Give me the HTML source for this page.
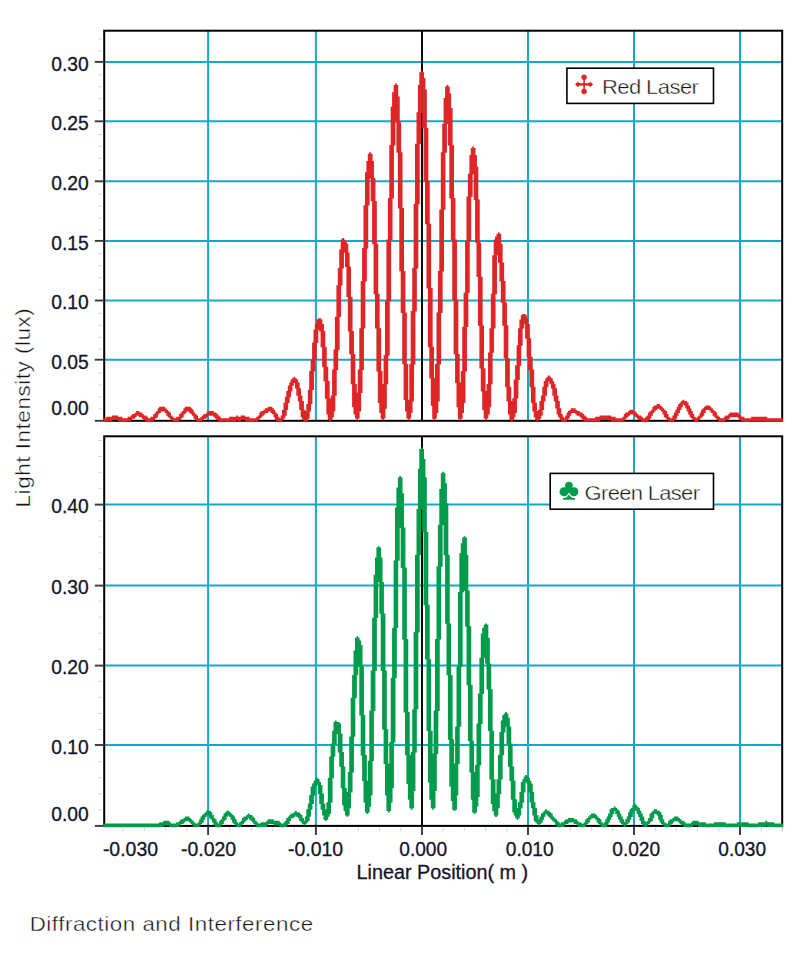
<!DOCTYPE html><html><head><meta charset="utf-8"><title>Diffraction and Interference</title>
<style>html,body{margin:0;padding:0;background:#fff;}body{width:800px;height:953px;overflow:hidden;font-family:"Liberation Sans",sans-serif;}svg{display:block}.t{font-family:"Liberation Sans",sans-serif;font-size:19.6px;fill:#15152a;stroke:#15152a;stroke-width:0.3px}.l{font-family:"Liberation Sans",sans-serif;fill:#141414;stroke:#fff;stroke-width:0.38px;paint-order:fill stroke}</style></head><body>
<svg width="800" height="953" viewBox="0 0 800 953">
<defs><filter id="bl" x="-2%" y="-2%" width="104%" height="104%"><feGaussianBlur stdDeviation="0.55"/></filter></defs>
<rect width="800" height="953" fill="#fff"/>
<line x1="104.2" y1="61.9" x2="782.2" y2="61.9" stroke="#17a8c4" stroke-width="2.0"/>
<line x1="104.2" y1="121.3" x2="782.2" y2="121.3" stroke="#17a8c4" stroke-width="2.0"/>
<line x1="104.2" y1="181.3" x2="782.2" y2="181.3" stroke="#17a8c4" stroke-width="2.0"/>
<line x1="104.2" y1="240.9" x2="782.2" y2="240.9" stroke="#17a8c4" stroke-width="2.0"/>
<line x1="104.2" y1="300.5" x2="782.2" y2="300.5" stroke="#17a8c4" stroke-width="2.0"/>
<line x1="104.2" y1="359.7" x2="782.2" y2="359.7" stroke="#17a8c4" stroke-width="2.0"/>
<line x1="208.1" y1="30.7" x2="208.1" y2="420.8" stroke="#17a8c4" stroke-width="2.0"/>
<line x1="315.9" y1="30.7" x2="315.9" y2="420.8" stroke="#17a8c4" stroke-width="2.0"/>
<line x1="528.0" y1="30.7" x2="528.0" y2="420.8" stroke="#17a8c4" stroke-width="2.0"/>
<line x1="634.0" y1="30.7" x2="634.0" y2="420.8" stroke="#17a8c4" stroke-width="2.0"/>
<line x1="740.0" y1="30.7" x2="740.0" y2="420.8" stroke="#17a8c4" stroke-width="2.0"/>
<line x1="422.0" y1="30.7" x2="422.0" y2="420.8" stroke="#0c0c0c" stroke-width="2.0"/>
<rect x="104.2" y="30.7" width="678.0" height="390.1" fill="none" stroke="#000" stroke-width="2"/>
<line x1="94.8" y1="61.9" x2="104.2" y2="61.9" stroke="#3a3a3a" stroke-width="1.9"/>
<line x1="94.8" y1="121.3" x2="104.2" y2="121.3" stroke="#3a3a3a" stroke-width="1.9"/>
<line x1="94.8" y1="181.3" x2="104.2" y2="181.3" stroke="#3a3a3a" stroke-width="1.9"/>
<line x1="94.8" y1="240.9" x2="104.2" y2="240.9" stroke="#3a3a3a" stroke-width="1.9"/>
<line x1="94.8" y1="300.5" x2="104.2" y2="300.5" stroke="#3a3a3a" stroke-width="1.9"/>
<line x1="94.8" y1="359.7" x2="104.2" y2="359.7" stroke="#3a3a3a" stroke-width="1.9"/>
<line x1="94.8" y1="420.8" x2="104.2" y2="420.8" stroke="#3a3a3a" stroke-width="1.9"/>
<line x1="98.4" y1="408.9" x2="101.8" y2="408.9" stroke="#cfcfcf" stroke-width="0.9"/>
<line x1="98.4" y1="396.9" x2="101.8" y2="396.9" stroke="#cfcfcf" stroke-width="0.9"/>
<line x1="98.4" y1="385.0" x2="101.8" y2="385.0" stroke="#cfcfcf" stroke-width="0.9"/>
<line x1="98.4" y1="373.1" x2="101.8" y2="373.1" stroke="#cfcfcf" stroke-width="0.9"/>
<line x1="98.4" y1="349.2" x2="101.8" y2="349.2" stroke="#cfcfcf" stroke-width="0.9"/>
<line x1="98.4" y1="337.3" x2="101.8" y2="337.3" stroke="#cfcfcf" stroke-width="0.9"/>
<line x1="98.4" y1="325.4" x2="101.8" y2="325.4" stroke="#cfcfcf" stroke-width="0.9"/>
<line x1="98.4" y1="313.4" x2="101.8" y2="313.4" stroke="#cfcfcf" stroke-width="0.9"/>
<line x1="98.4" y1="289.6" x2="101.8" y2="289.6" stroke="#cfcfcf" stroke-width="0.9"/>
<line x1="98.4" y1="277.6" x2="101.8" y2="277.6" stroke="#cfcfcf" stroke-width="0.9"/>
<line x1="98.4" y1="265.7" x2="101.8" y2="265.7" stroke="#cfcfcf" stroke-width="0.9"/>
<line x1="98.4" y1="253.8" x2="101.8" y2="253.8" stroke="#cfcfcf" stroke-width="0.9"/>
<line x1="98.4" y1="229.9" x2="101.8" y2="229.9" stroke="#cfcfcf" stroke-width="0.9"/>
<line x1="98.4" y1="218.0" x2="101.8" y2="218.0" stroke="#cfcfcf" stroke-width="0.9"/>
<line x1="98.4" y1="206.1" x2="101.8" y2="206.1" stroke="#cfcfcf" stroke-width="0.9"/>
<line x1="98.4" y1="194.1" x2="101.8" y2="194.1" stroke="#cfcfcf" stroke-width="0.9"/>
<line x1="98.4" y1="170.3" x2="101.8" y2="170.3" stroke="#cfcfcf" stroke-width="0.9"/>
<line x1="98.4" y1="158.3" x2="101.8" y2="158.3" stroke="#cfcfcf" stroke-width="0.9"/>
<line x1="98.4" y1="146.4" x2="101.8" y2="146.4" stroke="#cfcfcf" stroke-width="0.9"/>
<line x1="98.4" y1="134.5" x2="101.8" y2="134.5" stroke="#cfcfcf" stroke-width="0.9"/>
<line x1="98.4" y1="110.6" x2="101.8" y2="110.6" stroke="#cfcfcf" stroke-width="0.9"/>
<line x1="98.4" y1="98.7" x2="101.8" y2="98.7" stroke="#cfcfcf" stroke-width="0.9"/>
<line x1="98.4" y1="86.8" x2="101.8" y2="86.8" stroke="#cfcfcf" stroke-width="0.9"/>
<line x1="98.4" y1="74.8" x2="101.8" y2="74.8" stroke="#cfcfcf" stroke-width="0.9"/>
<line x1="98.4" y1="51.0" x2="101.8" y2="51.0" stroke="#cfcfcf" stroke-width="0.9"/>
<line x1="98.4" y1="39.0" x2="101.8" y2="39.0" stroke="#cfcfcf" stroke-width="0.9"/>
<text class="t" x="88.8" y="70.7" text-anchor="end" textLength="37.5" lengthAdjust="spacingAndGlyphs">0.30</text>
<text class="t" x="88.8" y="130.1" text-anchor="end" textLength="37.5" lengthAdjust="spacingAndGlyphs">0.25</text>
<text class="t" x="88.8" y="190.1" text-anchor="end" textLength="37.5" lengthAdjust="spacingAndGlyphs">0.20</text>
<text class="t" x="88.8" y="249.7" text-anchor="end" textLength="37.5" lengthAdjust="spacingAndGlyphs">0.15</text>
<text class="t" x="88.8" y="309.3" text-anchor="end" textLength="37.5" lengthAdjust="spacingAndGlyphs">0.10</text>
<text class="t" x="88.8" y="368.5" text-anchor="end" textLength="37.5" lengthAdjust="spacingAndGlyphs">0.05</text>
<text class="t" x="88.8" y="415.0" text-anchor="end" textLength="37.5" lengthAdjust="spacingAndGlyphs">0.00</text>
<path d="M103.3 418.3h1.83v3.4h-1.83zM104.7 418.3h1.83v3.4h-1.83zM106.1 416.8h1.83v4.7h-1.83zM107.6 416.8h1.83v4.7h-1.83zM109.0 416.8h1.83v4.7h-1.83zM110.4 416.8h1.83v4.7h-1.83zM111.9 415.4h1.83v4.7h-1.83zM113.3 415.4h1.83v4.7h-1.83zM114.7 415.4h1.83v4.7h-1.83zM116.2 415.4h1.83v4.7h-1.83zM117.6 416.8h1.83v4.7h-1.83zM119.0 416.8h1.83v4.7h-1.83zM120.4 416.8h1.83v4.7h-1.83zM121.9 418.3h1.83v3.4h-1.83zM123.3 418.3h1.83v3.4h-1.83zM124.7 418.3h1.83v3.4h-1.83zM126.2 418.3h1.83v3.4h-1.83zM127.6 416.8h1.83v4.7h-1.83zM129.0 416.8h1.83v4.7h-1.83zM130.5 415.4h1.83v4.7h-1.83zM131.9 414.0h1.83v4.7h-1.83zM133.3 414.0h1.83v4.7h-1.83zM134.7 412.5h1.83v4.7h-1.83zM136.2 411.1h1.83v4.7h-1.83zM137.6 411.1h1.83v4.7h-1.83zM139.0 412.5h1.83v4.7h-1.83zM140.5 412.5h1.83v4.7h-1.83zM141.9 414.0h1.83v4.7h-1.83zM143.3 415.4h1.83v4.7h-1.83zM144.8 415.4h1.83v6.1h-1.83zM146.2 416.8h1.83v4.8h-1.83zM147.6 418.3h1.83v3.4h-1.83zM149.0 418.3h1.83v3.4h-1.83zM150.5 416.8h1.83v4.7h-1.83zM151.9 416.8h1.83v4.7h-1.83zM153.3 414.0h1.83v6.1h-1.83zM154.8 412.5h1.83v6.1h-1.83zM156.2 411.1h1.83v6.1h-1.83zM157.6 408.2h1.83v6.1h-1.83zM159.1 406.8h1.83v6.1h-1.83zM160.5 406.8h1.83v4.7h-1.83zM161.9 406.8h1.83v4.7h-1.83zM163.3 406.8h1.83v4.7h-1.83zM164.8 408.2h1.83v4.7h-1.83zM166.2 409.7h1.83v6.1h-1.83zM167.6 411.1h1.83v6.1h-1.83zM169.1 412.5h1.83v6.1h-1.83zM170.5 415.4h1.83v4.7h-1.83zM171.9 416.8h1.83v4.7h-1.83zM173.4 418.3h1.83v3.4h-1.83zM174.8 418.3h1.83v3.4h-1.83zM176.2 416.8h1.83v4.7h-1.83zM177.6 416.8h1.83v4.7h-1.83zM179.1 414.0h1.83v6.1h-1.83zM180.5 412.5h1.83v6.1h-1.83zM181.9 411.1h1.83v6.1h-1.83zM183.4 408.2h1.83v6.1h-1.83zM184.8 406.8h1.83v6.1h-1.83zM186.2 406.8h1.83v4.7h-1.83zM187.7 406.8h1.83v4.7h-1.83zM189.1 406.8h1.83v6.1h-1.83zM190.5 408.2h1.83v6.1h-1.83zM191.9 409.7h1.83v6.1h-1.83zM193.4 412.5h1.83v6.1h-1.83zM194.8 414.0h1.83v6.1h-1.83zM196.2 415.4h1.83v6.1h-1.83zM197.7 418.3h1.83v3.4h-1.83zM199.1 418.3h1.83v3.4h-1.83zM200.5 416.8h1.83v4.7h-1.83zM202.0 415.4h1.83v4.7h-1.83zM203.4 414.0h1.83v4.7h-1.83zM204.8 414.0h1.83v4.7h-1.83zM206.2 412.5h1.83v4.7h-1.83zM207.7 411.1h1.83v4.7h-1.83zM209.1 411.1h1.83v4.7h-1.83zM210.5 411.1h1.83v4.7h-1.83zM212.0 411.1h1.83v4.7h-1.83zM213.4 412.5h1.83v4.7h-1.83zM214.8 412.5h1.83v6.1h-1.83zM216.3 414.0h1.83v6.1h-1.83zM217.7 415.4h1.83v6.1h-1.83zM219.1 416.8h1.83v4.7h-1.83zM220.5 418.3h1.83v3.4h-1.83zM222.0 418.3h1.83v3.4h-1.83zM223.4 418.3h1.83v3.4h-1.83zM224.8 418.3h1.83v3.4h-1.83zM226.3 418.3h1.83v3.4h-1.83zM227.7 418.3h1.83v3.4h-1.83zM229.1 416.8h1.83v4.7h-1.83zM230.6 416.8h1.83v4.7h-1.83zM232.0 416.8h1.83v4.7h-1.83zM233.4 416.8h1.83v4.7h-1.83zM234.8 416.8h1.83v4.7h-1.83zM236.3 415.4h1.83v4.7h-1.83zM237.7 416.8h1.83v4.7h-1.83zM239.1 416.8h1.83v4.7h-1.83zM240.6 415.4h1.83v4.7h-1.83zM242.0 415.4h1.83v4.7h-1.83zM243.4 415.4h1.83v4.7h-1.83zM244.9 416.8h1.83v4.7h-1.83zM246.3 416.8h1.83v4.7h-1.83zM247.7 416.8h1.83v4.7h-1.83zM249.1 418.3h1.83v3.4h-1.83zM250.6 418.3h1.83v3.4h-1.83zM252.0 418.3h1.83v3.4h-1.83zM253.4 418.3h1.83v3.4h-1.83zM254.9 418.3h1.83v3.4h-1.83zM256.3 416.8h1.83v4.7h-1.83zM257.7 415.4h1.83v4.7h-1.83zM259.2 412.5h1.83v6.1h-1.83zM260.6 411.1h1.83v6.1h-1.83zM262.0 411.1h1.83v4.7h-1.83zM263.4 409.7h1.83v4.7h-1.83zM264.9 408.2h1.83v4.7h-1.83zM266.3 408.2h1.83v4.7h-1.83zM267.7 406.8h1.83v4.7h-1.83zM269.2 406.8h1.83v4.7h-1.83zM270.6 406.8h1.83v6.1h-1.83zM272.0 408.2h1.83v6.1h-1.83zM273.5 409.7h1.83v7.5h-1.83zM274.9 412.5h1.83v7.5h-1.83zM276.3 414.0h1.83v7.5h-1.83zM277.7 416.8h1.83v4.8h-1.83zM279.2 418.3h1.83v3.4h-1.83zM280.6 415.4h1.83v6.1h-1.83zM282.0 409.7h1.83v10.4h-1.83zM283.5 402.5h1.83v16.1h-1.83zM284.9 396.8h1.83v19.0h-1.83zM286.3 391.1h1.83v19.0h-1.83zM287.8 385.4h1.83v17.6h-1.83zM289.2 382.5h1.83v14.7h-1.83zM290.6 379.6h1.83v11.8h-1.83zM292.0 378.2h1.83v7.5h-1.83zM293.5 376.8h1.83v6.1h-1.83zM294.9 378.2h1.83v10.4h-1.83zM296.3 379.6h1.83v16.1h-1.83zM297.8 382.5h1.83v19.0h-1.83zM299.2 388.2h1.83v21.8h-1.83zM300.6 395.4h1.83v21.8h-1.83zM302.1 401.1h1.83v19.0h-1.83zM303.5 409.7h1.83v11.8h-1.83zM304.9 411.1h1.83v10.5h-1.83zM306.3 404.0h1.83v17.6h-1.83zM307.8 389.7h1.83v29.0h-1.83zM309.2 371.1h1.83v40.4h-1.83zM310.6 359.6h1.83v44.7h-1.83zM312.1 342.5h1.83v47.6h-1.83zM313.5 329.6h1.83v41.9h-1.83zM314.9 323.9h1.83v36.1h-1.83zM316.4 319.6h1.83v23.3h-1.83zM317.8 318.2h1.83v11.8h-1.83zM319.2 318.2h1.83v13.3h-1.83zM320.6 319.6h1.83v27.6h-1.83zM322.1 323.9h1.83v43.3h-1.83zM323.5 331.0h1.83v50.4h-1.83zM324.9 346.8h1.83v51.9h-1.83zM326.4 366.8h1.83v47.6h-1.83zM327.8 381.1h1.83v39.0h-1.83zM329.2 398.2h1.83v23.3h-1.83zM330.7 395.4h1.83v24.7h-1.83zM332.1 369.6h1.83v47.6h-1.83zM333.5 349.6h1.83v61.9h-1.83zM334.9 316.7h1.83v79.0h-1.83zM336.4 285.3h1.83v84.8h-1.83zM337.8 268.1h1.83v81.9h-1.83zM339.2 249.5h1.83v67.6h-1.83zM340.7 239.5h1.83v46.2h-1.83zM342.1 238.1h1.83v30.4h-1.83zM343.5 239.5h1.83v13.3h-1.83zM345.0 240.9h1.83v26.1h-1.83zM346.4 243.8h1.83v53.3h-1.83zM347.8 252.4h1.83v79.0h-1.83zM349.2 266.7h1.83v87.6h-1.83zM350.7 296.7h1.83v87.6h-1.83zM352.1 331.0h1.83v76.2h-1.83zM353.5 353.9h1.83v60.5h-1.83zM355.0 383.9h1.83v34.7h-1.83zM356.4 392.5h1.83v27.6h-1.83zM357.8 369.6h1.83v49.0h-1.83zM359.3 328.2h1.83v83.3h-1.83zM360.7 281.0h1.83v111.9h-1.83zM362.1 248.1h1.83v122.0h-1.83zM363.5 205.2h1.83v123.4h-1.83zM365.0 172.3h1.83v109.1h-1.83zM366.4 160.9h1.83v87.6h-1.83zM367.8 153.7h1.83v51.9h-1.83zM369.3 152.3h1.83v26.1h-1.83zM370.7 153.7h1.83v47.6h-1.83zM372.1 160.9h1.83v83.3h-1.83zM373.6 178.0h1.83v116.2h-1.83zM375.0 200.9h1.83v127.7h-1.83zM376.4 243.8h1.83v127.7h-1.83zM377.8 293.8h1.83v109.1h-1.83zM379.3 328.2h1.83v84.8h-1.83zM380.7 371.1h1.83v47.6h-1.83zM382.1 383.9h1.83v36.1h-1.83zM383.6 355.3h1.83v63.3h-1.83zM385.0 301.0h1.83v107.7h-1.83zM386.4 239.5h1.83v144.8h-1.83zM387.9 198.0h1.83v157.7h-1.83zM389.3 145.1h1.83v156.3h-1.83zM390.7 106.5h1.83v133.4h-1.83zM392.1 92.2h1.83v106.2h-1.83zM393.6 85.1h1.83v60.5h-1.83zM395.0 83.6h1.83v39.0h-1.83zM396.4 85.1h1.83v67.6h-1.83zM397.9 96.5h1.83v111.9h-1.83zM399.3 122.2h1.83v149.1h-1.83zM400.7 152.3h1.83v160.6h-1.83zM402.2 208.0h1.83v156.3h-1.83zM403.6 271.0h1.83v129.1h-1.83zM405.0 312.4h1.83v99.1h-1.83zM406.4 363.9h1.83v54.7h-1.83zM407.9 399.7h1.83v20.4h-1.83zM409.3 363.9h1.83v54.7h-1.83zM410.7 311.0h1.83v101.9h-1.83zM412.2 268.1h1.83v133.4h-1.83zM413.6 203.8h1.83v160.6h-1.83zM415.0 143.7h1.83v167.7h-1.83zM416.5 112.2h1.83v156.3h-1.83zM417.9 85.1h1.83v119.1h-1.83zM419.3 72.2h1.83v71.9h-1.83zM420.7 70.8h1.83v41.9h-1.83zM422.2 72.2h1.83v56.2h-1.83zM423.6 77.9h1.83v103.4h-1.83zM425.0 89.4h1.83v134.8h-1.83zM426.5 128.0h1.83v160.6h-1.83zM427.9 180.9h1.83v166.3h-1.83zM429.3 223.8h1.83v154.8h-1.83zM430.8 288.1h1.83v117.7h-1.83zM432.2 346.8h1.83v71.9h-1.83zM433.6 378.2h1.83v41.9h-1.83zM435.0 363.9h1.83v54.7h-1.83zM436.5 312.4h1.83v100.5h-1.83zM437.9 271.0h1.83v130.5h-1.83zM439.3 209.5h1.83v154.8h-1.83zM440.8 152.3h1.83v160.6h-1.83zM442.2 123.7h1.83v147.7h-1.83zM443.6 97.9h1.83v111.9h-1.83zM445.1 86.5h1.83v66.2h-1.83zM446.5 85.1h1.83v39.0h-1.83zM447.9 86.5h1.83v59.0h-1.83zM449.3 93.6h1.83v104.8h-1.83zM450.8 107.9h1.83v132.0h-1.83zM452.2 145.1h1.83v154.8h-1.83zM453.6 198.0h1.83v156.3h-1.83zM455.1 239.5h1.83v143.4h-1.83zM456.5 299.6h1.83v107.7h-1.83zM457.9 353.9h1.83v64.8h-1.83zM459.4 382.5h1.83v37.6h-1.83zM460.8 371.1h1.83v47.6h-1.83zM462.2 326.7h1.83v86.2h-1.83zM463.6 292.4h1.83v110.5h-1.83zM465.1 240.9h1.83v130.5h-1.83zM466.5 196.6h1.83v130.5h-1.83zM467.9 173.7h1.83v119.1h-1.83zM469.4 155.1h1.83v86.2h-1.83zM470.8 148.0h1.83v49.0h-1.83zM472.2 146.6h1.83v27.6h-1.83zM473.7 148.0h1.83v51.9h-1.83zM475.1 155.1h1.83v87.6h-1.83zM476.5 166.6h1.83v110.5h-1.83zM477.9 199.5h1.83v126.2h-1.83zM479.4 242.4h1.83v126.2h-1.83zM480.8 276.7h1.83v114.8h-1.83zM482.2 325.3h1.83v84.8h-1.83zM483.7 368.2h1.83v50.4h-1.83zM485.1 391.1h1.83v29.0h-1.83zM486.5 383.9h1.83v34.7h-1.83zM488.0 352.5h1.83v61.9h-1.83zM489.4 328.2h1.83v79.0h-1.83zM490.8 293.8h1.83v90.5h-1.83zM492.2 255.2h1.83v97.6h-1.83zM493.7 239.5h1.83v89.1h-1.83zM495.1 236.6h1.83v57.6h-1.83zM496.5 233.8h1.83v21.8h-1.83zM498.0 232.4h1.83v30.4h-1.83zM499.4 233.8h1.83v47.6h-1.83zM500.8 243.8h1.83v59.0h-1.83zM502.3 262.4h1.83v63.3h-1.83zM503.7 281.0h1.83v77.6h-1.83zM505.1 302.4h1.83v84.8h-1.83zM506.5 325.3h1.83v76.2h-1.83zM508.0 358.2h1.83v56.2h-1.83zM509.4 386.8h1.83v33.3h-1.83zM510.8 401.1h1.83v20.4h-1.83zM512.3 398.2h1.83v21.8h-1.83zM513.7 379.6h1.83v37.6h-1.83zM515.1 365.3h1.83v47.6h-1.83zM516.6 345.3h1.83v53.3h-1.83zM518.0 328.2h1.83v51.9h-1.83zM519.4 319.6h1.83v46.2h-1.83zM520.8 315.3h1.83v30.4h-1.83zM522.3 313.9h1.83v14.7h-1.83zM523.7 313.9h1.83v10.4h-1.83zM525.1 315.3h1.83v23.3h-1.83zM526.6 318.2h1.83v39.0h-1.83zM528.0 323.9h1.83v46.2h-1.83zM529.4 338.2h1.83v49.0h-1.83zM530.9 356.8h1.83v46.2h-1.83zM532.3 369.6h1.83v41.9h-1.83zM533.7 386.8h1.83v30.4h-1.83zM535.1 402.5h1.83v17.6h-1.83zM536.6 411.1h1.83v10.4h-1.83zM538.0 409.7h1.83v10.4h-1.83zM539.4 401.1h1.83v17.6h-1.83zM540.9 395.4h1.83v20.4h-1.83zM542.3 386.8h1.83v23.3h-1.83zM543.7 381.1h1.83v20.4h-1.83zM545.2 378.2h1.83v17.6h-1.83zM546.6 376.8h1.83v10.4h-1.83zM548.0 375.4h1.83v6.1h-1.83zM549.4 376.8h1.83v7.5h-1.83zM550.9 378.2h1.83v10.4h-1.83zM552.3 381.1h1.83v14.7h-1.83zM553.7 383.9h1.83v17.6h-1.83zM555.2 388.2h1.83v20.4h-1.83zM556.6 395.4h1.83v19.0h-1.83zM558.0 401.1h1.83v16.1h-1.83zM559.5 408.2h1.83v11.8h-1.83zM560.9 414.0h1.83v7.5h-1.83zM562.3 416.8h1.83v4.8h-1.83zM563.7 418.3h1.83v3.4h-1.83zM565.2 415.4h1.83v6.1h-1.83zM566.6 412.5h1.83v7.5h-1.83zM568.0 411.1h1.83v7.5h-1.83zM569.5 409.7h1.83v6.1h-1.83zM570.9 408.2h1.83v4.7h-1.83zM572.3 408.2h1.83v4.7h-1.83zM573.8 408.2h1.83v4.7h-1.83zM575.2 409.7h1.83v4.7h-1.83zM576.6 411.1h1.83v4.7h-1.83zM578.0 411.1h1.83v4.7h-1.83zM579.5 412.5h1.83v4.7h-1.83zM580.9 412.5h1.83v6.1h-1.83zM582.3 414.0h1.83v6.1h-1.83zM583.8 415.4h1.83v6.1h-1.83zM585.2 416.8h1.83v4.7h-1.83zM586.6 418.3h1.83v3.4h-1.83zM588.1 418.3h1.83v3.4h-1.83zM589.5 418.3h1.83v3.4h-1.83zM590.9 418.3h1.83v3.4h-1.83zM592.3 418.3h1.83v3.4h-1.83zM593.8 418.3h1.83v3.4h-1.83zM595.2 416.8h1.83v4.7h-1.83zM596.6 416.8h1.83v4.7h-1.83zM598.1 416.8h1.83v4.7h-1.83zM599.5 415.4h1.83v4.7h-1.83zM600.9 415.4h1.83v4.7h-1.83zM602.4 415.4h1.83v4.7h-1.83zM603.8 415.4h1.83v4.7h-1.83zM605.2 415.4h1.83v4.7h-1.83zM606.6 415.4h1.83v4.7h-1.83zM608.1 415.4h1.83v4.7h-1.83zM609.5 415.4h1.83v4.7h-1.83zM610.9 416.8h1.83v4.7h-1.83zM612.4 416.8h1.83v4.7h-1.83zM613.8 416.8h1.83v4.7h-1.83zM615.2 418.3h1.83v3.4h-1.83zM616.7 418.3h1.83v3.4h-1.83zM618.1 418.3h1.83v3.4h-1.83zM619.5 418.3h1.83v3.4h-1.83zM620.9 418.3h1.83v3.4h-1.83zM622.4 416.8h1.83v4.7h-1.83zM623.8 414.0h1.83v6.1h-1.83zM625.2 412.5h1.83v6.1h-1.83zM626.7 412.5h1.83v4.7h-1.83zM628.1 411.1h1.83v4.7h-1.83zM629.5 409.7h1.83v4.7h-1.83zM631.0 409.7h1.83v4.7h-1.83zM632.4 409.7h1.83v4.7h-1.83zM633.8 411.1h1.83v4.7h-1.83zM635.2 412.5h1.83v4.7h-1.83zM636.7 414.0h1.83v4.7h-1.83zM638.1 415.4h1.83v4.7h-1.83zM639.5 415.4h1.83v4.7h-1.83zM641.0 416.8h1.83v4.7h-1.83zM642.4 418.3h1.83v3.4h-1.83zM643.8 418.3h1.83v3.4h-1.83zM645.3 416.8h1.83v4.7h-1.83zM646.7 415.4h1.83v6.1h-1.83zM648.1 412.5h1.83v7.5h-1.83zM649.5 411.1h1.83v7.5h-1.83zM651.0 409.7h1.83v6.1h-1.83zM652.4 406.8h1.83v6.1h-1.83zM653.8 405.4h1.83v6.1h-1.83zM655.3 405.4h1.83v4.7h-1.83zM656.7 404.0h1.83v4.7h-1.83zM658.1 404.0h1.83v4.7h-1.83zM659.6 405.4h1.83v4.7h-1.83zM661.0 406.8h1.83v4.7h-1.83zM662.4 408.2h1.83v6.1h-1.83zM663.8 409.7h1.83v7.5h-1.83zM665.3 411.1h1.83v7.5h-1.83zM666.7 414.0h1.83v6.1h-1.83zM668.1 416.8h1.83v4.7h-1.83zM669.6 418.3h1.83v3.4h-1.83zM671.0 418.3h1.83v3.4h-1.83zM672.4 415.4h1.83v6.1h-1.83zM673.9 412.5h1.83v7.5h-1.83zM675.3 409.7h1.83v9.0h-1.83zM676.7 406.8h1.83v9.0h-1.83zM678.1 404.0h1.83v9.0h-1.83zM679.6 402.5h1.83v7.5h-1.83zM681.0 401.1h1.83v6.1h-1.83zM682.4 399.7h1.83v4.7h-1.83zM683.9 401.1h1.83v4.7h-1.83zM685.3 401.1h1.83v7.5h-1.83zM686.7 402.5h1.83v9.0h-1.83zM688.2 405.4h1.83v9.0h-1.83zM689.6 408.2h1.83v9.0h-1.83zM691.0 411.1h1.83v7.5h-1.83zM692.4 414.0h1.83v6.1h-1.83zM693.9 416.8h1.83v4.7h-1.83zM695.3 418.3h1.83v3.4h-1.83zM696.7 416.8h1.83v4.7h-1.83zM698.2 415.4h1.83v4.7h-1.83zM699.6 412.5h1.83v6.1h-1.83zM701.0 409.7h1.83v7.5h-1.83zM702.5 408.2h1.83v7.5h-1.83zM703.9 406.8h1.83v6.1h-1.83zM705.3 405.4h1.83v4.7h-1.83zM706.7 405.4h1.83v4.7h-1.83zM708.2 405.4h1.83v4.7h-1.83zM709.6 406.8h1.83v4.7h-1.83zM711.0 408.2h1.83v4.7h-1.83zM712.5 409.7h1.83v6.1h-1.83zM713.9 411.1h1.83v6.1h-1.83zM715.3 412.5h1.83v6.1h-1.83zM716.8 415.4h1.83v4.7h-1.83zM718.2 416.8h1.83v4.7h-1.83zM719.6 418.3h1.83v3.4h-1.83zM721.0 418.3h1.83v3.4h-1.83zM722.5 418.3h1.83v3.4h-1.83zM723.9 416.8h1.83v4.7h-1.83zM725.3 415.4h1.83v4.7h-1.83zM726.8 415.4h1.83v4.7h-1.83zM728.2 414.0h1.83v4.7h-1.83zM729.6 412.5h1.83v4.7h-1.83zM731.1 412.5h1.83v4.7h-1.83zM732.5 412.5h1.83v4.7h-1.83zM733.9 412.5h1.83v4.7h-1.83zM735.3 412.5h1.83v4.7h-1.83zM736.8 412.5h1.83v4.7h-1.83zM738.2 414.0h1.83v4.7h-1.83zM739.6 415.4h1.83v4.7h-1.83zM741.1 416.8h1.83v4.7h-1.83zM742.5 416.8h1.83v4.7h-1.83zM743.9 418.3h1.83v3.4h-1.83zM745.4 418.3h1.83v3.4h-1.83zM746.8 418.3h1.83v3.4h-1.83zM748.2 418.3h1.83v3.4h-1.83zM749.6 418.3h1.83v3.4h-1.83zM751.1 416.8h1.83v4.7h-1.83zM752.5 416.8h1.83v4.7h-1.83zM753.9 416.8h1.83v4.7h-1.83zM755.4 416.8h1.83v4.7h-1.83zM756.8 416.8h1.83v4.7h-1.83zM758.2 416.8h1.83v4.7h-1.83zM759.7 416.8h1.83v4.7h-1.83zM761.1 416.8h1.83v4.7h-1.83zM762.5 416.8h1.83v4.7h-1.83zM763.9 416.8h1.83v4.7h-1.83zM765.4 416.8h1.83v4.7h-1.83zM766.8 418.3h1.83v3.4h-1.83zM768.2 418.3h1.83v3.4h-1.83zM769.7 418.3h1.83v3.4h-1.83zM771.1 418.3h1.83v3.4h-1.83zM772.5 418.3h1.83v3.4h-1.83zM774.0 418.3h1.83v3.4h-1.83zM775.4 418.3h1.83v3.4h-1.83zM776.8 418.3h1.83v3.4h-1.83zM778.2 418.3h1.83v3.4h-1.83zM779.7 418.3h1.83v3.4h-1.83zM781.1 418.3h1.83v3.4h-1.83z" fill="#df2526" stroke="none" filter="url(#bl)"/>
<line x1="104.2" y1="504.6" x2="782.2" y2="504.6" stroke="#17a8c4" stroke-width="2.0"/>
<line x1="104.2" y1="585.6" x2="782.2" y2="585.6" stroke="#17a8c4" stroke-width="2.0"/>
<line x1="104.2" y1="665.6" x2="782.2" y2="665.6" stroke="#17a8c4" stroke-width="2.0"/>
<line x1="104.2" y1="745.0" x2="782.2" y2="745.0" stroke="#17a8c4" stroke-width="2.0"/>
<line x1="208.1" y1="436.3" x2="208.1" y2="825.9" stroke="#17a8c4" stroke-width="2.0"/>
<line x1="315.9" y1="436.3" x2="315.9" y2="825.9" stroke="#17a8c4" stroke-width="2.0"/>
<line x1="528.0" y1="436.3" x2="528.0" y2="825.9" stroke="#17a8c4" stroke-width="2.0"/>
<line x1="634.0" y1="436.3" x2="634.0" y2="825.9" stroke="#17a8c4" stroke-width="2.0"/>
<line x1="740.0" y1="436.3" x2="740.0" y2="825.9" stroke="#17a8c4" stroke-width="2.0"/>
<line x1="422.0" y1="436.3" x2="422.0" y2="825.9" stroke="#0c0c0c" stroke-width="2.0"/>
<rect x="104.2" y="436.3" width="678.0" height="389.6" fill="none" stroke="#000" stroke-width="2"/>
<line x1="94.8" y1="504.6" x2="104.2" y2="504.6" stroke="#3a3a3a" stroke-width="1.9"/>
<line x1="94.8" y1="585.6" x2="104.2" y2="585.6" stroke="#3a3a3a" stroke-width="1.9"/>
<line x1="94.8" y1="665.6" x2="104.2" y2="665.6" stroke="#3a3a3a" stroke-width="1.9"/>
<line x1="94.8" y1="745.0" x2="104.2" y2="745.0" stroke="#3a3a3a" stroke-width="1.9"/>
<line x1="94.8" y1="825.9" x2="104.2" y2="825.9" stroke="#3a3a3a" stroke-width="1.9"/>
<line x1="98.4" y1="809.8" x2="101.8" y2="809.8" stroke="#cfcfcf" stroke-width="0.9"/>
<line x1="98.4" y1="793.8" x2="101.8" y2="793.8" stroke="#cfcfcf" stroke-width="0.9"/>
<line x1="98.4" y1="777.7" x2="101.8" y2="777.7" stroke="#cfcfcf" stroke-width="0.9"/>
<line x1="98.4" y1="761.7" x2="101.8" y2="761.7" stroke="#cfcfcf" stroke-width="0.9"/>
<line x1="98.4" y1="729.5" x2="101.8" y2="729.5" stroke="#cfcfcf" stroke-width="0.9"/>
<line x1="98.4" y1="713.5" x2="101.8" y2="713.5" stroke="#cfcfcf" stroke-width="0.9"/>
<line x1="98.4" y1="697.4" x2="101.8" y2="697.4" stroke="#cfcfcf" stroke-width="0.9"/>
<line x1="98.4" y1="681.4" x2="101.8" y2="681.4" stroke="#cfcfcf" stroke-width="0.9"/>
<line x1="98.4" y1="649.2" x2="101.8" y2="649.2" stroke="#cfcfcf" stroke-width="0.9"/>
<line x1="98.4" y1="633.2" x2="101.8" y2="633.2" stroke="#cfcfcf" stroke-width="0.9"/>
<line x1="98.4" y1="617.1" x2="101.8" y2="617.1" stroke="#cfcfcf" stroke-width="0.9"/>
<line x1="98.4" y1="601.1" x2="101.8" y2="601.1" stroke="#cfcfcf" stroke-width="0.9"/>
<line x1="98.4" y1="568.9" x2="101.8" y2="568.9" stroke="#cfcfcf" stroke-width="0.9"/>
<line x1="98.4" y1="552.9" x2="101.8" y2="552.9" stroke="#cfcfcf" stroke-width="0.9"/>
<line x1="98.4" y1="536.8" x2="101.8" y2="536.8" stroke="#cfcfcf" stroke-width="0.9"/>
<line x1="98.4" y1="520.8" x2="101.8" y2="520.8" stroke="#cfcfcf" stroke-width="0.9"/>
<line x1="98.4" y1="488.6" x2="101.8" y2="488.6" stroke="#cfcfcf" stroke-width="0.9"/>
<line x1="98.4" y1="472.6" x2="101.8" y2="472.6" stroke="#cfcfcf" stroke-width="0.9"/>
<line x1="98.4" y1="456.5" x2="101.8" y2="456.5" stroke="#cfcfcf" stroke-width="0.9"/>
<line x1="98.4" y1="440.5" x2="101.8" y2="440.5" stroke="#cfcfcf" stroke-width="0.9"/>
<text class="t" x="88.8" y="513.4" text-anchor="end" textLength="37.5" lengthAdjust="spacingAndGlyphs">0.40</text>
<text class="t" x="88.8" y="594.4" text-anchor="end" textLength="37.5" lengthAdjust="spacingAndGlyphs">0.30</text>
<text class="t" x="88.8" y="674.4" text-anchor="end" textLength="37.5" lengthAdjust="spacingAndGlyphs">0.20</text>
<text class="t" x="88.8" y="753.8" text-anchor="end" textLength="37.5" lengthAdjust="spacingAndGlyphs">0.10</text>
<text class="t" x="88.8" y="821.0" text-anchor="end" textLength="37.5" lengthAdjust="spacingAndGlyphs">0.00</text>
<path d="M103.3 823.6h1.83v3.7h-1.83zM104.7 823.6h1.83v3.7h-1.83zM106.1 823.6h1.83v3.7h-1.83zM107.6 823.6h1.83v3.7h-1.83zM109.0 823.6h1.83v3.7h-1.83zM110.4 823.6h1.83v3.7h-1.83zM111.9 823.6h1.83v3.7h-1.83zM113.3 823.6h1.83v3.7h-1.83zM114.7 823.6h1.83v3.7h-1.83zM116.2 823.6h1.83v3.7h-1.83zM117.6 823.6h1.83v3.7h-1.83zM119.0 823.6h1.83v3.7h-1.83zM120.4 823.6h1.83v3.7h-1.83zM121.9 823.6h1.83v3.7h-1.83zM123.3 823.6h1.83v3.7h-1.83zM124.7 823.6h1.83v3.7h-1.83zM126.2 823.6h1.83v3.7h-1.83zM127.6 823.6h1.83v3.7h-1.83zM129.0 823.6h1.83v3.7h-1.83zM130.5 823.6h1.83v3.7h-1.83zM131.9 823.6h1.83v3.7h-1.83zM133.3 823.6h1.83v3.7h-1.83zM134.7 823.6h1.83v3.7h-1.83zM136.2 823.6h1.83v3.7h-1.83zM137.6 823.6h1.83v3.7h-1.83zM139.0 823.6h1.83v3.7h-1.83zM140.5 823.6h1.83v3.7h-1.83zM141.9 823.6h1.83v3.7h-1.83zM143.3 823.6h1.83v3.7h-1.83zM144.8 823.6h1.83v3.7h-1.83zM146.2 823.6h1.83v3.7h-1.83zM147.6 823.6h1.83v3.7h-1.83zM149.0 823.6h1.83v3.7h-1.83zM150.5 823.6h1.83v3.7h-1.83zM151.9 823.6h1.83v3.7h-1.83zM153.3 823.6h1.83v3.7h-1.83zM154.8 823.6h1.83v3.7h-1.83zM156.2 823.6h1.83v3.7h-1.83zM157.6 823.6h1.83v3.7h-1.83zM159.1 822.2h1.83v4.7h-1.83zM160.5 822.2h1.83v4.7h-1.83zM161.9 822.2h1.83v4.7h-1.83zM163.3 820.7h1.83v4.7h-1.83zM164.8 820.7h1.83v4.7h-1.83zM166.2 820.7h1.83v4.7h-1.83zM167.6 820.7h1.83v4.7h-1.83zM169.1 822.2h1.83v4.7h-1.83zM170.5 823.6h1.83v3.7h-1.83zM171.9 823.6h1.83v3.7h-1.83zM173.4 823.6h1.83v3.7h-1.83zM174.8 823.6h1.83v3.7h-1.83zM176.2 822.2h1.83v4.7h-1.83zM177.6 822.2h1.83v4.7h-1.83zM179.1 820.7h1.83v4.7h-1.83zM180.5 819.3h1.83v4.7h-1.83zM181.9 819.3h1.83v4.7h-1.83zM183.4 817.9h1.83v4.7h-1.83zM184.8 816.5h1.83v4.7h-1.83zM186.2 816.5h1.83v4.7h-1.83zM187.7 816.5h1.83v4.7h-1.83zM189.1 817.9h1.83v4.7h-1.83zM190.5 819.3h1.83v4.7h-1.83zM191.9 820.7h1.83v4.7h-1.83zM193.4 822.2h1.83v4.7h-1.83zM194.8 823.6h1.83v3.7h-1.83zM196.2 823.6h1.83v3.7h-1.83zM197.7 822.2h1.83v4.7h-1.83zM199.1 819.3h1.83v6.1h-1.83zM200.5 816.5h1.83v7.5h-1.83zM202.0 815.0h1.83v7.5h-1.83zM203.4 813.6h1.83v6.1h-1.83zM204.8 812.2h1.83v4.7h-1.83zM206.2 810.7h1.83v4.7h-1.83zM207.7 810.7h1.83v4.7h-1.83zM209.1 810.7h1.83v7.5h-1.83zM210.5 812.2h1.83v7.5h-1.83zM212.0 815.0h1.83v7.5h-1.83zM213.4 817.9h1.83v7.5h-1.83zM214.8 819.3h1.83v7.5h-1.83zM216.3 822.2h1.83v5.1h-1.83zM217.7 823.6h1.83v3.7h-1.83zM219.1 820.7h1.83v6.1h-1.83zM220.5 819.3h1.83v6.1h-1.83zM222.0 816.5h1.83v7.5h-1.83zM223.4 813.6h1.83v7.5h-1.83zM224.8 812.2h1.83v7.5h-1.83zM226.3 810.7h1.83v6.1h-1.83zM227.7 810.7h1.83v4.7h-1.83zM229.1 812.2h1.83v4.7h-1.83zM230.6 813.6h1.83v6.1h-1.83zM232.0 815.0h1.83v7.5h-1.83zM233.4 816.5h1.83v7.5h-1.83zM234.8 819.3h1.83v6.1h-1.83zM236.3 822.2h1.83v4.7h-1.83zM237.7 823.6h1.83v3.7h-1.83zM239.1 822.2h1.83v4.7h-1.83zM240.6 820.7h1.83v4.7h-1.83zM242.0 817.9h1.83v6.1h-1.83zM243.4 816.5h1.83v6.1h-1.83zM244.9 816.5h1.83v4.7h-1.83zM246.3 815.0h1.83v4.7h-1.83zM247.7 813.6h1.83v4.7h-1.83zM249.1 815.0h1.83v4.7h-1.83zM250.6 815.0h1.83v6.1h-1.83zM252.0 816.5h1.83v6.1h-1.83zM253.4 817.9h1.83v6.1h-1.83zM254.9 820.7h1.83v4.7h-1.83zM256.3 822.2h1.83v4.7h-1.83zM257.7 823.6h1.83v3.7h-1.83zM259.2 823.6h1.83v3.7h-1.83zM260.6 822.2h1.83v4.7h-1.83zM262.0 822.2h1.83v4.7h-1.83zM263.4 822.2h1.83v4.7h-1.83zM264.9 822.2h1.83v4.7h-1.83zM266.3 820.7h1.83v4.7h-1.83zM267.7 819.3h1.83v4.7h-1.83zM269.2 819.3h1.83v4.7h-1.83zM270.6 819.3h1.83v4.7h-1.83zM272.0 819.3h1.83v4.7h-1.83zM273.5 820.7h1.83v4.7h-1.83zM274.9 820.7h1.83v4.7h-1.83zM276.3 820.7h1.83v4.7h-1.83zM277.7 820.7h1.83v4.7h-1.83zM279.2 822.2h1.83v4.7h-1.83zM280.6 823.6h1.83v3.7h-1.83zM282.0 823.6h1.83v3.7h-1.83zM283.5 822.2h1.83v4.7h-1.83zM284.9 820.7h1.83v6.1h-1.83zM286.3 817.9h1.83v7.5h-1.83zM287.8 816.5h1.83v7.5h-1.83zM289.2 815.0h1.83v6.1h-1.83zM290.6 813.6h1.83v4.7h-1.83zM292.0 813.6h1.83v4.7h-1.83zM293.5 812.2h1.83v4.7h-1.83zM294.9 810.7h1.83v4.7h-1.83zM296.3 812.2h1.83v4.7h-1.83zM297.8 812.2h1.83v6.1h-1.83zM299.2 813.6h1.83v7.5h-1.83zM300.6 815.0h1.83v7.5h-1.83zM302.1 817.9h1.83v6.1h-1.83zM303.5 820.7h1.83v4.7h-1.83zM304.9 816.5h1.83v7.5h-1.83zM306.3 809.3h1.83v13.3h-1.83zM307.8 803.6h1.83v17.6h-1.83zM309.2 795.0h1.83v21.8h-1.83zM310.6 786.4h1.83v23.3h-1.83zM312.1 783.6h1.83v20.4h-1.83zM313.5 780.7h1.83v14.7h-1.83zM314.9 779.3h1.83v7.5h-1.83zM316.4 777.8h1.83v7.5h-1.83zM317.8 779.3h1.83v14.7h-1.83zM319.2 782.1h1.83v21.8h-1.83zM320.6 785.0h1.83v24.7h-1.83zM322.1 793.6h1.83v21.8h-1.83zM323.5 803.6h1.83v16.1h-1.83zM324.9 809.3h1.83v11.8h-1.83zM326.4 802.2h1.83v17.6h-1.83zM327.8 777.8h1.83v39.0h-1.83zM329.2 756.4h1.83v57.6h-1.83zM330.7 743.5h1.83v59.0h-1.83zM332.1 730.7h1.83v47.6h-1.83zM333.5 722.1h1.83v34.7h-1.83zM334.9 720.6h1.83v23.3h-1.83zM336.4 722.1h1.83v11.8h-1.83zM337.8 722.1h1.83v30.4h-1.83zM339.2 723.5h1.83v43.3h-1.83zM340.7 733.5h1.83v54.7h-1.83zM342.1 752.1h1.83v53.3h-1.83zM343.5 766.4h1.83v44.7h-1.83zM345.0 787.9h1.83v27.6h-1.83zM346.4 792.1h1.83v24.7h-1.83zM347.8 772.1h1.83v43.3h-1.83zM349.2 736.4h1.83v71.9h-1.83zM350.7 697.8h1.83v94.8h-1.83zM352.1 674.9h1.83v97.6h-1.83zM353.5 650.6h1.83v86.2h-1.83zM355.0 637.7h1.83v60.5h-1.83zM356.4 636.3h1.83v39.0h-1.83zM357.8 637.7h1.83v29.0h-1.83zM359.3 640.6h1.83v74.8h-1.83zM360.7 644.9h1.83v110.5h-1.83zM362.1 666.3h1.83v114.8h-1.83zM363.5 714.9h1.83v87.6h-1.83zM365.0 755.0h1.83v57.6h-1.83zM366.4 780.7h1.83v33.3h-1.83zM367.8 760.7h1.83v51.9h-1.83zM369.3 710.6h1.83v96.2h-1.83zM370.7 670.6h1.83v124.8h-1.83zM372.1 617.7h1.83v143.4h-1.83zM373.6 574.8h1.83v136.2h-1.83zM375.0 557.6h1.83v113.4h-1.83zM376.4 547.6h1.83v70.5h-1.83zM377.8 546.2h1.83v36.1h-1.83zM379.3 547.6h1.83v66.2h-1.83zM380.7 557.6h1.83v113.4h-1.83zM382.1 581.9h1.83v147.7h-1.83zM383.6 613.4h1.83v150.6h-1.83zM385.0 670.6h1.83v124.8h-1.83zM386.4 729.2h1.83v81.9h-1.83zM387.9 763.5h1.83v49.0h-1.83zM389.3 742.1h1.83v69.0h-1.83zM390.7 677.7h1.83v124.8h-1.83zM392.1 627.7h1.83v160.6h-1.83zM393.6 560.5h1.83v182.0h-1.83zM395.0 507.6h1.83v170.6h-1.83zM396.4 487.6h1.83v140.5h-1.83zM397.9 477.5h1.83v83.3h-1.83zM399.3 476.1h1.83v51.9h-1.83zM400.7 477.5h1.83v90.5h-1.83zM402.2 493.3h1.83v146.3h-1.83zM403.6 527.6h1.83v184.9h-1.83zM405.0 567.6h1.83v187.7h-1.83zM406.4 639.1h1.83v144.8h-1.83zM407.9 712.1h1.83v87.6h-1.83zM409.3 755.0h1.83v53.3h-1.83zM410.7 752.1h1.83v57.6h-1.83zM412.2 709.2h1.83v99.1h-1.83zM413.6 632.0h1.83v159.1h-1.83zM415.0 554.8h1.83v197.7h-1.83zM416.5 509.0h1.83v200.6h-1.83zM417.9 469.0h1.83v163.4h-1.83zM419.3 448.9h1.83v106.2h-1.83zM420.7 447.5h1.83v61.9h-1.83zM422.2 448.9h1.83v83.3h-1.83zM423.6 459.0h1.83v146.3h-1.83zM425.0 477.5h1.83v182.0h-1.83zM426.5 531.9h1.83v199.2h-1.83zM427.9 604.8h1.83v177.7h-1.83zM429.3 659.2h1.83v140.5h-1.83zM430.8 730.7h1.83v77.6h-1.83zM432.2 753.5h1.83v56.2h-1.83zM433.6 710.6h1.83v97.6h-1.83zM435.0 639.1h1.83v152.0h-1.83zM436.5 566.2h1.83v187.7h-1.83zM437.9 524.7h1.83v186.3h-1.83zM439.3 489.0h1.83v150.6h-1.83zM440.8 473.3h1.83v93.4h-1.83zM442.2 471.8h1.83v53.3h-1.83zM443.6 473.3h1.83v81.9h-1.83zM445.1 483.3h1.83v140.5h-1.83zM446.5 503.3h1.83v172.0h-1.83zM447.9 554.8h1.83v184.9h-1.83zM449.3 623.4h1.83v163.4h-1.83zM450.8 674.9h1.83v126.2h-1.83zM452.2 739.2h1.83v70.5h-1.83zM453.6 763.5h1.83v47.6h-1.83zM455.1 726.4h1.83v83.3h-1.83zM456.5 666.3h1.83v129.1h-1.83zM457.9 591.9h1.83v172.0h-1.83zM459.4 553.3h1.83v173.4h-1.83zM460.8 543.3h1.83v123.4h-1.83zM462.2 537.6h1.83v54.7h-1.83zM463.6 536.2h1.83v54.7h-1.83zM465.1 537.6h1.83v89.1h-1.83zM466.5 554.8h1.83v130.5h-1.83zM467.9 590.5h1.83v150.6h-1.83zM469.4 626.3h1.83v146.3h-1.83zM470.8 684.9h1.83v114.8h-1.83zM472.2 740.7h1.83v71.9h-1.83zM473.7 772.1h1.83v41.9h-1.83zM475.1 765.0h1.83v47.6h-1.83zM476.5 723.5h1.83v83.3h-1.83zM477.9 693.5h1.83v103.4h-1.83zM479.4 657.7h1.83v107.7h-1.83zM480.8 633.4h1.83v90.5h-1.83zM482.2 627.7h1.83v66.2h-1.83zM483.7 624.8h1.83v33.3h-1.83zM485.1 623.4h1.83v40.4h-1.83zM486.5 624.8h1.83v64.8h-1.83zM488.0 637.7h1.83v93.4h-1.83zM489.4 663.4h1.83v116.2h-1.83zM490.8 689.2h1.83v114.8h-1.83zM492.2 730.7h1.83v80.5h-1.83zM493.7 779.3h1.83v36.1h-1.83zM495.1 793.6h1.83v23.3h-1.83zM496.5 779.3h1.83v36.1h-1.83zM498.0 755.0h1.83v53.3h-1.83zM499.4 732.1h1.83v61.9h-1.83zM500.8 720.6h1.83v59.0h-1.83zM502.3 714.9h1.83v40.4h-1.83zM503.7 713.5h1.83v19.0h-1.83zM505.1 712.1h1.83v14.7h-1.83zM506.5 713.5h1.83v30.4h-1.83zM508.0 717.8h1.83v49.0h-1.83zM509.4 726.4h1.83v54.7h-1.83zM510.8 743.5h1.83v56.2h-1.83zM512.3 766.4h1.83v46.2h-1.83zM513.7 780.7h1.83v34.7h-1.83zM515.1 799.3h1.83v19.0h-1.83zM516.6 807.9h1.83v11.8h-1.83zM518.0 802.2h1.83v16.1h-1.83zM519.4 792.1h1.83v23.3h-1.83zM520.8 782.1h1.83v26.1h-1.83zM522.3 779.3h1.83v23.3h-1.83zM523.7 776.4h1.83v16.1h-1.83zM525.1 775.0h1.83v7.5h-1.83zM526.6 776.4h1.83v7.5h-1.83zM528.0 777.8h1.83v14.7h-1.83zM529.4 780.7h1.83v21.8h-1.83zM530.9 783.6h1.83v24.7h-1.83zM532.3 792.1h1.83v23.3h-1.83zM533.7 802.2h1.83v19.0h-1.83zM535.1 807.9h1.83v14.7h-1.83zM536.6 815.0h1.83v9.0h-1.83zM538.0 819.3h1.83v6.1h-1.83zM539.4 816.5h1.83v7.5h-1.83zM540.9 813.6h1.83v9.0h-1.83zM542.3 812.2h1.83v7.5h-1.83zM543.7 810.7h1.83v6.1h-1.83zM545.2 809.3h1.83v4.7h-1.83zM546.6 810.7h1.83v4.7h-1.83zM548.0 810.7h1.83v6.1h-1.83zM549.4 812.2h1.83v6.1h-1.83zM550.9 813.6h1.83v6.1h-1.83zM552.3 816.5h1.83v4.7h-1.83zM553.7 817.9h1.83v4.7h-1.83zM555.2 819.3h1.83v6.1h-1.83zM556.6 820.7h1.83v6.1h-1.83zM558.0 822.2h1.83v5.1h-1.83zM559.5 823.6h1.83v3.7h-1.83zM560.9 822.2h1.83v4.7h-1.83zM562.3 822.2h1.83v4.7h-1.83zM563.7 820.7h1.83v4.7h-1.83zM565.2 819.3h1.83v4.7h-1.83zM566.6 819.3h1.83v4.7h-1.83zM568.0 817.9h1.83v4.7h-1.83zM569.5 817.9h1.83v4.7h-1.83zM570.9 817.9h1.83v4.7h-1.83zM572.3 817.9h1.83v4.7h-1.83zM573.8 819.3h1.83v4.7h-1.83zM575.2 819.3h1.83v4.7h-1.83zM576.6 820.7h1.83v4.7h-1.83zM578.0 822.2h1.83v4.7h-1.83zM579.5 822.2h1.83v4.7h-1.83zM580.9 823.6h1.83v3.7h-1.83zM582.3 823.6h1.83v3.7h-1.83zM583.8 822.2h1.83v4.7h-1.83zM585.2 819.3h1.83v6.1h-1.83zM586.6 817.9h1.83v6.1h-1.83zM588.1 816.5h1.83v6.1h-1.83zM589.5 815.0h1.83v4.7h-1.83zM590.9 813.6h1.83v4.7h-1.83zM592.3 813.6h1.83v4.7h-1.83zM593.8 813.6h1.83v4.7h-1.83zM595.2 815.0h1.83v4.7h-1.83zM596.6 816.5h1.83v6.1h-1.83zM598.1 817.9h1.83v6.1h-1.83zM599.5 819.3h1.83v6.1h-1.83zM600.9 822.2h1.83v4.7h-1.83zM602.4 823.6h1.83v3.7h-1.83zM603.8 822.2h1.83v5.1h-1.83zM605.2 819.3h1.83v7.5h-1.83zM606.6 816.5h1.83v9.0h-1.83zM608.1 813.6h1.83v9.0h-1.83zM609.5 809.3h1.83v10.4h-1.83zM610.9 807.9h1.83v9.0h-1.83zM612.4 807.9h1.83v6.1h-1.83zM613.8 806.4h1.83v4.7h-1.83zM615.2 807.9h1.83v6.1h-1.83zM616.7 809.3h1.83v7.5h-1.83zM618.1 810.7h1.83v9.0h-1.83zM619.5 813.6h1.83v9.0h-1.83zM620.9 816.5h1.83v7.5h-1.83zM622.4 819.3h1.83v6.1h-1.83zM623.8 822.2h1.83v4.7h-1.83zM625.2 819.3h1.83v6.1h-1.83zM626.7 816.5h1.83v7.5h-1.83zM628.1 812.2h1.83v10.4h-1.83zM629.5 809.3h1.83v10.4h-1.83zM631.0 807.9h1.83v9.0h-1.83zM632.4 805.0h1.83v7.5h-1.83zM633.8 803.6h1.83v6.1h-1.83zM635.2 805.0h1.83v6.1h-1.83zM636.7 806.4h1.83v7.5h-1.83zM638.1 807.9h1.83v9.0h-1.83zM639.5 810.7h1.83v10.4h-1.83zM641.0 813.6h1.83v10.4h-1.83zM642.4 816.5h1.83v9.0h-1.83zM643.8 820.7h1.83v6.1h-1.83zM645.3 822.2h1.83v4.7h-1.83zM646.7 820.7h1.83v4.7h-1.83zM648.1 817.9h1.83v6.1h-1.83zM649.5 813.6h1.83v9.0h-1.83zM651.0 812.2h1.83v9.0h-1.83zM652.4 810.7h1.83v7.5h-1.83zM653.8 809.3h1.83v4.7h-1.83zM655.3 809.3h1.83v4.7h-1.83zM656.7 810.7h1.83v4.7h-1.83zM658.1 810.7h1.83v9.0h-1.83zM659.6 812.2h1.83v10.4h-1.83zM661.0 815.0h1.83v9.0h-1.83zM662.4 819.3h1.83v6.1h-1.83zM663.8 822.2h1.83v4.7h-1.83zM665.3 823.6h1.83v3.7h-1.83zM666.7 823.6h1.83v3.7h-1.83zM668.1 820.7h1.83v6.1h-1.83zM669.6 819.3h1.83v6.1h-1.83zM671.0 819.3h1.83v4.7h-1.83zM672.4 817.9h1.83v4.7h-1.83zM673.9 816.5h1.83v4.7h-1.83zM675.3 816.5h1.83v4.7h-1.83zM676.7 816.5h1.83v4.7h-1.83zM678.1 817.9h1.83v4.7h-1.83zM679.6 819.3h1.83v4.7h-1.83zM681.0 820.7h1.83v4.7h-1.83zM682.4 820.7h1.83v4.7h-1.83zM683.9 822.2h1.83v4.7h-1.83zM685.3 823.6h1.83v3.7h-1.83zM686.7 823.6h1.83v3.7h-1.83zM688.2 823.6h1.83v3.7h-1.83zM689.6 823.6h1.83v3.7h-1.83zM691.0 822.2h1.83v4.7h-1.83zM692.4 820.7h1.83v4.7h-1.83zM693.9 820.7h1.83v4.7h-1.83zM695.3 820.7h1.83v4.7h-1.83zM696.7 820.7h1.83v4.7h-1.83zM698.2 822.2h1.83v4.7h-1.83zM699.6 822.2h1.83v4.7h-1.83zM701.0 822.2h1.83v4.7h-1.83zM702.5 822.2h1.83v4.7h-1.83zM703.9 822.2h1.83v4.7h-1.83zM705.3 823.6h1.83v3.7h-1.83zM706.7 823.6h1.83v3.7h-1.83zM708.2 823.6h1.83v3.7h-1.83zM709.6 823.6h1.83v3.7h-1.83zM711.0 823.6h1.83v3.7h-1.83zM712.5 823.6h1.83v3.7h-1.83zM713.9 822.2h1.83v4.7h-1.83zM715.3 822.2h1.83v4.7h-1.83zM716.8 822.2h1.83v4.7h-1.83zM718.2 822.2h1.83v4.7h-1.83zM719.6 822.2h1.83v4.7h-1.83zM721.0 822.2h1.83v4.7h-1.83zM722.5 822.2h1.83v4.7h-1.83zM723.9 822.2h1.83v4.7h-1.83zM725.3 823.6h1.83v3.7h-1.83zM726.8 823.6h1.83v3.7h-1.83zM728.2 823.6h1.83v3.7h-1.83zM729.6 823.6h1.83v3.7h-1.83zM731.1 823.6h1.83v3.7h-1.83zM732.5 823.6h1.83v3.7h-1.83zM733.9 823.6h1.83v3.7h-1.83zM735.3 823.6h1.83v3.7h-1.83zM736.8 822.2h1.83v4.7h-1.83zM738.2 822.2h1.83v4.7h-1.83zM739.6 822.2h1.83v4.7h-1.83zM741.1 822.2h1.83v4.7h-1.83zM742.5 822.2h1.83v4.7h-1.83zM743.9 822.2h1.83v4.7h-1.83zM745.4 822.2h1.83v4.7h-1.83zM746.8 822.2h1.83v4.7h-1.83zM748.2 823.6h1.83v3.7h-1.83zM749.6 823.6h1.83v3.7h-1.83zM751.1 823.6h1.83v3.7h-1.83zM752.5 823.6h1.83v3.7h-1.83zM753.9 823.6h1.83v3.7h-1.83zM755.4 823.6h1.83v3.7h-1.83zM756.8 823.6h1.83v3.7h-1.83zM758.2 822.2h1.83v4.7h-1.83zM759.7 822.2h1.83v4.7h-1.83zM761.1 822.2h1.83v4.7h-1.83zM762.5 822.2h1.83v4.7h-1.83zM763.9 822.2h1.83v4.7h-1.83zM765.4 820.7h1.83v4.7h-1.83zM766.8 822.2h1.83v4.7h-1.83zM768.2 822.2h1.83v4.7h-1.83zM769.7 822.2h1.83v4.7h-1.83zM771.1 822.2h1.83v4.7h-1.83zM772.5 822.2h1.83v4.7h-1.83zM774.0 823.6h1.83v3.7h-1.83zM775.4 823.6h1.83v3.7h-1.83zM776.8 823.6h1.83v3.7h-1.83zM778.2 823.6h1.83v3.7h-1.83zM779.7 823.6h1.83v3.7h-1.83zM781.1 823.6h1.83v3.7h-1.83z" fill="#009b4c" stroke="none" filter="url(#bl)"/>
<line x1="123.2" y1="827.5" x2="123.2" y2="831.2" stroke="#cfcfcf" stroke-width="0.9"/>
<line x1="144.4" y1="827.5" x2="144.4" y2="831.2" stroke="#cfcfcf" stroke-width="0.9"/>
<line x1="165.6" y1="827.5" x2="165.6" y2="831.2" stroke="#cfcfcf" stroke-width="0.9"/>
<line x1="186.8" y1="827.5" x2="186.8" y2="831.2" stroke="#cfcfcf" stroke-width="0.9"/>
<line x1="208.1" y1="826.5" x2="208.1" y2="835" stroke="#3a3a3a" stroke-width="1.9"/>
<line x1="229.6" y1="827.5" x2="229.6" y2="831.2" stroke="#cfcfcf" stroke-width="0.9"/>
<line x1="251.2" y1="827.5" x2="251.2" y2="831.2" stroke="#cfcfcf" stroke-width="0.9"/>
<line x1="272.8" y1="827.5" x2="272.8" y2="831.2" stroke="#cfcfcf" stroke-width="0.9"/>
<line x1="294.4" y1="827.5" x2="294.4" y2="831.2" stroke="#cfcfcf" stroke-width="0.9"/>
<line x1="315.9" y1="826.5" x2="315.9" y2="835" stroke="#3a3a3a" stroke-width="1.9"/>
<line x1="337.2" y1="827.5" x2="337.2" y2="831.2" stroke="#cfcfcf" stroke-width="0.9"/>
<line x1="358.4" y1="827.5" x2="358.4" y2="831.2" stroke="#cfcfcf" stroke-width="0.9"/>
<line x1="379.6" y1="827.5" x2="379.6" y2="831.2" stroke="#cfcfcf" stroke-width="0.9"/>
<line x1="400.8" y1="827.5" x2="400.8" y2="831.2" stroke="#cfcfcf" stroke-width="0.9"/>
<line x1="422.0" y1="826.5" x2="422.0" y2="835" stroke="#3a3a3a" stroke-width="1.9"/>
<line x1="443.2" y1="827.5" x2="443.2" y2="831.2" stroke="#cfcfcf" stroke-width="0.9"/>
<line x1="464.4" y1="827.5" x2="464.4" y2="831.2" stroke="#cfcfcf" stroke-width="0.9"/>
<line x1="485.6" y1="827.5" x2="485.6" y2="831.2" stroke="#cfcfcf" stroke-width="0.9"/>
<line x1="506.8" y1="827.5" x2="506.8" y2="831.2" stroke="#cfcfcf" stroke-width="0.9"/>
<line x1="528.0" y1="826.5" x2="528.0" y2="835" stroke="#3a3a3a" stroke-width="1.9"/>
<line x1="549.2" y1="827.5" x2="549.2" y2="831.2" stroke="#cfcfcf" stroke-width="0.9"/>
<line x1="570.4" y1="827.5" x2="570.4" y2="831.2" stroke="#cfcfcf" stroke-width="0.9"/>
<line x1="591.6" y1="827.5" x2="591.6" y2="831.2" stroke="#cfcfcf" stroke-width="0.9"/>
<line x1="612.8" y1="827.5" x2="612.8" y2="831.2" stroke="#cfcfcf" stroke-width="0.9"/>
<line x1="634.0" y1="826.5" x2="634.0" y2="835" stroke="#3a3a3a" stroke-width="1.9"/>
<line x1="655.2" y1="827.5" x2="655.2" y2="831.2" stroke="#cfcfcf" stroke-width="0.9"/>
<line x1="676.4" y1="827.5" x2="676.4" y2="831.2" stroke="#cfcfcf" stroke-width="0.9"/>
<line x1="697.6" y1="827.5" x2="697.6" y2="831.2" stroke="#cfcfcf" stroke-width="0.9"/>
<line x1="718.8" y1="827.5" x2="718.8" y2="831.2" stroke="#cfcfcf" stroke-width="0.9"/>
<line x1="740.0" y1="826.5" x2="740.0" y2="835" stroke="#3a3a3a" stroke-width="1.9"/>
<line x1="761.2" y1="827.5" x2="761.2" y2="831.2" stroke="#cfcfcf" stroke-width="0.9"/>
<line x1="782.4" y1="827.5" x2="782.4" y2="831.2" stroke="#cfcfcf" stroke-width="0.9"/>
<line x1="782.2" y1="827.5" x2="782.2" y2="831.2" stroke="#cfcfcf" stroke-width="0.9"/>
<text class="t" x="130.5" y="856.3" text-anchor="middle" textLength="55.2" lengthAdjust="spacingAndGlyphs">-0.030</text>
<text class="t" x="208.6" y="856.3" text-anchor="middle" textLength="55.2" lengthAdjust="spacingAndGlyphs">-0.020</text>
<text class="t" x="315.6" y="856.3" text-anchor="middle" textLength="55.2" lengthAdjust="spacingAndGlyphs">-0.010</text>
<text class="t" x="423.2" y="856.3" text-anchor="middle" textLength="47.9" lengthAdjust="spacingAndGlyphs">0.000</text>
<text class="t" x="529.7" y="856.3" text-anchor="middle" textLength="47.9" lengthAdjust="spacingAndGlyphs">0.010</text>
<text class="t" x="636.2" y="856.3" text-anchor="middle" textLength="47.9" lengthAdjust="spacingAndGlyphs">0.020</text>
<text class="t" x="742.2" y="856.3" text-anchor="middle" textLength="47.9" lengthAdjust="spacingAndGlyphs">0.030</text>
<text class="t" x="356.6" y="878.8" textLength="171.5" lengthAdjust="spacingAndGlyphs">Linear Position( m )</text>
<text class="l" transform="translate(29.6,507.4) rotate(-90) scale(1.10,1)" font-size="20.4" textLength="181.1" lengthAdjust="spacing">Light Intensity (lux)</text>
<text class="l" transform="translate(29.7,930.6) scale(1.10,1)" font-size="20.3" textLength="257.6" lengthAdjust="spacing">Diffraction and Interference</text>
<rect x="566.9" y="68.2" width="146.6" height="35.2" fill="#fff" stroke="#000" stroke-width="1.6"/>
<text class="l" transform="translate(601.9,94.1) scale(1.10,1)" font-size="20" textLength="88.2" lengthAdjust="spacing">Red Laser</text>
<g fill="#df2526" stroke="none">
<rect x="577.1" y="83.2" width="14" height="2.4"/>
<rect x="583.3" y="77.4" width="1.6" height="14"/>
<circle cx="584.1" cy="77.3" r="2.7"/>
<circle cx="584.1" cy="91.5" r="2.7"/>
<path d="M575.5 84.4 l2.4 -2.1 l2.4 2.1 l-2.4 2.1 z" stroke="#df2526" stroke-width="1" stroke-linejoin="round"/>
<path d="M592.7 84.4 l-2.4 -2.1 l-2.4 2.1 l2.4 2.1 z" stroke="#df2526" stroke-width="1" stroke-linejoin="round"/>
</g>
<rect x="550.2" y="473.4" width="163.3" height="35.8" fill="#fff" stroke="#000" stroke-width="1.6"/>
<text class="l" transform="translate(584.6,499.6) scale(1.10,1)" font-size="20" textLength="104.9" lengthAdjust="spacing">Green Laser</text>
<g fill="#009b4c">
<circle cx="568.9" cy="485.6" r="3.9"/>
<circle cx="564.0" cy="491.8" r="4.5"/>
<circle cx="573.9" cy="491.8" r="4.5"/>
<rect x="566.5" y="487" width="4.8" height="6"/>
<path d="M568.9 493.2 C568.5 496.6 566 497.9 563 498.1 L563 499.8 L575 499.8 L575 498.1 C572 497.9 569.4 496.6 568.9 493.2 Z"/>
</g>
</svg></body></html>
